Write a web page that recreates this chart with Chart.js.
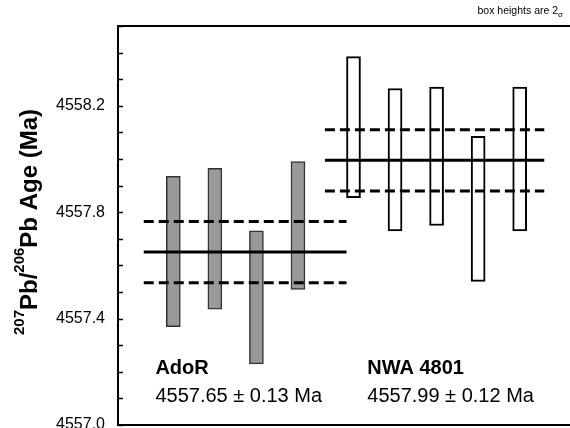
<!DOCTYPE html>
<html>
<head>
<meta charset="utf-8">
<script src="https://cdn.jsdelivr.net/npm/chart.js@4.4.1/dist/chart.umd.min.js"></script>
<style>
  html, body { margin: 0; padding: 0; background: #fff; overflow: hidden; }
  #wrap { position: relative; width: 575px; height: 428px; }
</style>
</head>
<body>
<div id="wrap"><canvas id="c"></canvas></div>
<script>
// ── data ────────────────────────────────────────────────────────────────────
const adorX    = [1, 2, 3, 4]
const adorLow  = [4557.37, 4557.435, 4557.23, 4557.51]
const adorHigh = [4557.935, 4557.965, 4557.73, 4557.99]

const nwaX    = [5, 6, 7, 8, 9]
const nwaLow  = [4557.855, 4557.73, 4557.75, 4557.54, 4557.73]
const nwaHigh = [4558.385, 4558.265, 4558.27, 4558.085, 4558.27]

const adorMean = 4557.65
const adorBand = [4557.535, 4557.765]
const adorSpan = [0.12, 5.0]

const nwaMean = 4557.995
const nwaBand = [4557.88, 4558.11]
const nwaSpan = [4.48, 9.76]

const yLabelTicks = [4557.0, 4557.4, 4557.8, 4558.2]

const FONT = "'Liberation Sans', Arial, sans-serif"

const bars = (xs, lo, hi) => xs.map((x, i) => ({ x, y: [lo[i], hi[i]] }))
const hline = (span, y) => [{ x: span[0], y }, { x: span[1], y }]

const meanLine = (span, y, dashed) => ({
  type: "line",
  data: hline(span, y),
  borderColor: "#000",
  borderWidth: 3,
  borderDash: dashed ? [10, 5] : [],
  pointRadius: 0,
  fill: false,
  order: 0
})

// ── frame, inward ticks and text ────────────────────────────────────────────
const decor = {
  id: "decor",
  afterDraw(chart) {
    const { ctx, chartArea: a, scales: { x, y } } = chart
    ctx.save()
    ctx.strokeStyle = "#000"
    ctx.lineWidth = 2
    ctx.beginPath()
    ctx.moveTo(chart.width, a.top)
    ctx.lineTo(a.left, a.top)
    ctx.lineTo(a.left, a.bottom)
    ctx.lineTo(chart.width, a.bottom)
    ctx.stroke()

    // minor ticks pointing into the plot
    ctx.lineWidth = 1.5
    y.ticks.forEach(t => {
      const py = Math.round(y.getPixelForValue(t.value)) + 0.5
      ctx.beginPath()
      ctx.moveTo(a.left, py)
      ctx.lineTo(a.left + 5, py)
      ctx.stroke()
    })

    ctx.fillStyle = "#000"
    ctx.textBaseline = "alphabetic"
    ctx.textAlign = "left"

    // group labels
    ctx.font = "bold 20px " + FONT
    ctx.fillText("AdoR", x.getPixelForValue(0.4), y.getPixelForValue(4557.19))
    ctx.fillText("NWA 4801", x.getPixelForValue(5.5), y.getPixelForValue(4557.19))
    ctx.font = "20px " + FONT
    ctx.fillText("4557.65 \u00b1 0.13 Ma", x.getPixelForValue(0.4), y.getPixelForValue(4557.085))
    ctx.fillText("4557.99 \u00b1 0.12 Ma", x.getPixelForValue(5.5), y.getPixelForValue(4557.085))

    // note top right
    const note = "box heights are 2"
    const sig = "\u03c3"
    ctx.font = "8px " + FONT
    const sw = ctx.measureText(sig).width
    ctx.font = "10.5px " + FONT
    const nw = ctx.measureText(note).width
    const nx = 563 - sw - nw
    ctx.fillText(note, nx, 14)
    ctx.font = "8px " + FONT
    ctx.fillText(sig, nx + nw, 17)

    // y axis title, rotated, with superscripts
    const parts = [
      ["207", "bold 15px " + FONT, -13],
      ["Pb/", "bold 24px " + FONT, 0],
      ["206", "bold 15px " + FONT, -13],
      ["Pb Age (Ma)", "bold 24px " + FONT, 0]
    ]
    let total = 0
    parts.forEach(p => { ctx.font = p[1]; total += ctx.measureText(p[0]).width })
    ctx.translate(37, 222)
    ctx.rotate(-Math.PI / 2)
    let cx = -total / 2
    parts.forEach(p => {
      ctx.font = p[1]
      ctx.fillText(p[0], cx, p[2])
      cx += ctx.measureText(p[0]).width
    })
    ctx.restore()
  }
}

new Chart(document.getElementById("c"), {
  type: "bar",
  data: {
    datasets: [
      meanLine(adorSpan, adorMean, false),
      meanLine(adorSpan, adorBand[0], true),
      meanLine(adorSpan, adorBand[1], true),
      meanLine(nwaSpan, nwaMean, false),
      meanLine(nwaSpan, nwaBand[0], true),
      meanLine(nwaSpan, nwaBand[1], true),
      {
        label: "AdoR",
        data: bars(adorX, adorLow, adorHigh),
        backgroundColor: "#999999",
        borderColor: "#333333",
        borderWidth: 1.5,
        borderSkipped: false,
        barThickness: 14,
        order: 1
      },
      {
        label: "NWA 4801",
        data: bars(nwaX, nwaLow, nwaHigh),
        backgroundColor: "#ffffff",
        borderColor: "#000000",
        borderWidth: 2,
        borderSkipped: false,
        barThickness: 14,
        order: 1
      }
    ]
  },
  options: {
    responsive: true,
    maintainAspectRatio: false,
    animation: false,
    layout: { padding: { top: 26, bottom: 3, left: 0, right: 0 } },
    plugins: { legend: { display: false }, tooltip: { enabled: false } },
    scales: {
      x: { type: "linear", min: 0, max: 10, display: false },
      y: {
        min: 4557.0,
        max: 4558.5,
        afterFit: s => { s.width = 118; s.paddingTop = 0; s.paddingBottom = 0 },
        border: { display: false },
        grid: { display: false, drawTicks: false },
        ticks: {
          stepSize: 0.1,
          padding: 13,
          color: "#000",
          font: { family: FONT, size: 16 },
          callback: v => yLabelTicks.some(t => Math.abs(t - v) < 1e-6) ? v.toFixed(1) : ""
        }
      }
    }
  },
  plugins: [decor]
})
</script>
</body>
</html>
